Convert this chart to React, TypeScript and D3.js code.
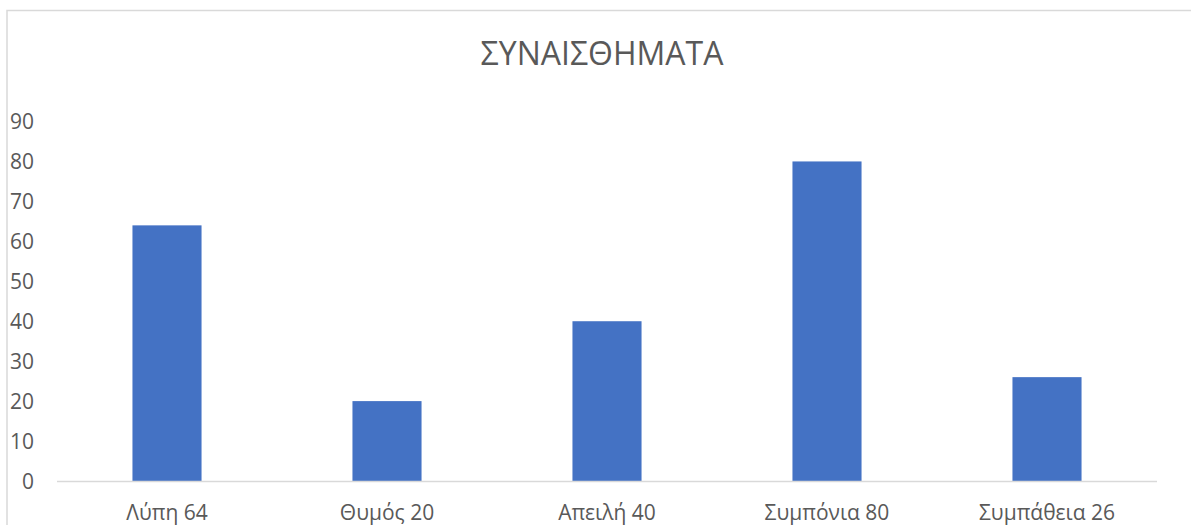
import * as d3 from "d3";

const categories = ["Λύπη 64", "Θυμός 20", "Απειλή 40", "Συμπόνια 80", "Συμπάθεια 26"];
const values = [64, 20, 40, 80, 26];
const yTicks = [0, 10, 20, 30, 40, 50, 60, 70, 80, 90];
const title = "ΣΥΝΑΙΣΘΗΜΑΤΑ";

export default function App() {
  const width = 1191;
  const height = 525;
  const margin = { top: 121.5, right: 34, bottom: 44, left: 57 };
  const font = "'Open Sans', 'Noto Sans', sans-serif";
  const textColor = "#595959";

  const x = d3
    .scaleBand<string>()
    .domain(categories)
    .range([margin.left, width - margin.right])
    .paddingInner(0.686)
    .paddingOuter(0.343);

  const y = d3
    .scaleLinear()
    .domain([0, 90])
    .range([height - margin.bottom, margin.top]);

  return (
    <svg
      width={width}
      height={height}
      style={{ position: "absolute", left: 0, top: 0, fontFamily: font }}
    >
      <rect x={0} y={0} width={width} height={height} fill="#fff" />
      {/* chart frame, cut by the window at right and bottom */}
      <rect x={7} y={10.5} width={1300} height={700} fill="none" stroke="#d9d9d9" strokeWidth={1.5} />

      <text x={602} y={65} textAnchor="middle" fontSize={32} fill={textColor}>
        {title}
      </text>

      {/* y tick labels */}
      {yTicks.map((t) => (
        <text key={t} x={34} y={y(t) + 7.5} textAnchor="end" fontSize={21} fill={textColor}>
          {t}
        </text>
      ))}

      {/* bars */}
      {categories.map((c, i) => (
        <rect
          key={c}
          x={x(c)}
          y={y(values[i])}
          width={x.bandwidth()}
          height={y(0) - y(values[i])}
          fill="#4472C4"
        />
      ))}

      {/* baseline */}
      <line
        x1={margin.left}
        x2={width - margin.right}
        y1={y(0) + 0.5}
        y2={y(0) + 0.5}
        stroke="#d9d9d9"
        strokeWidth={1.5}
      />

      {/* category labels */}
      {categories.map((c) => (
        <text
          key={c}
          x={(x(c) ?? 0) + x.bandwidth() / 2}
          y={520}
          textAnchor="middle"
          fontSize={21}
          fill={textColor}
        >
          {c}
        </text>
      ))}
    </svg>
  );
}
